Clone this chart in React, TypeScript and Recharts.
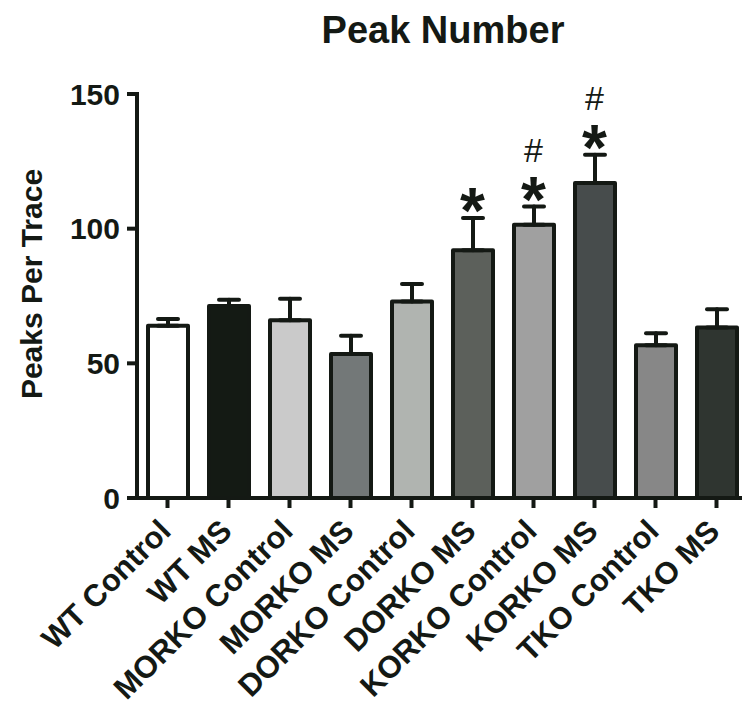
import React from 'react';
import { ComposedChart, Bar, Cell, ErrorBar, Scatter, XAxis, YAxis } from 'recharts';

// values (mean + SEM, peaks per trace)
const categories = [
  'WT Control', 'WT MS', 'MORKO Control', 'MORKO MS', 'DORKO Control',
  'DORKO MS', 'KORKO Control', 'KORKO MS', 'TKO Control', 'TKO MS',
];
const means = [64, 71.3, 66, 53.5, 73, 92, 101.5, 117, 56.7, 63.3];
const sems = [2.5, 2.3, 8, 6.7, 6.5, 12, 6.7, 10.4, 4.5, 6.8];
const marks = ['', '', '', '', '', '*', '*#', '*#', '', ''];
const yTicks = [0, 50, 100, 150];
const fills = [
  '#ffffff', '#141a14', '#cacaca', '#737878', '#b0b4b0',
  '#5c605b', '#a0a0a0', '#474c4c', '#878787', '#2f3530',
];

const INK = '#141914';
const FONT = '"Liberation Sans", Arial, Helvetica, sans-serif';

const data = categories.map((name, i) => ({
  name,
  mean: means[i],
  err: [0, sems[i]],
  capTop: means[i] + sems[i],
  mark: marks[i],
}));

const XTick = (props: any) => {
  const { x, y, payload } = props;
  return (
    <g transform={`translate(${x + 5},${y + 23})`}>
      <text textAnchor="end" transform="rotate(-45)" fontSize={31} fontWeight="bold" fill={INK} fontFamily={FONT}>
        {payload.value}
      </text>
    </g>
  );
};

const YTitle = (props: any) => {
  const vb = props.viewBox || { x: 0, y: 94, width: 137, height: 404 };
  const cx = vb.x + 42;
  const cy = vb.y + vb.height / 2 - 12;
  return (
    <text x={cx} y={cy} transform={`rotate(-90, ${cx}, ${cy})`} textAnchor="middle"
      fontSize={30} fontWeight="bold" fill={INK} fontFamily={FONT}>
      Peaks Per Trace
    </text>
  );
};

// significance marks sit above the error-bar cap (# stacked over *)
const MarkShape = (props: any) => {
  const { cx, cy, payload } = props;
  if (!payload || !payload.mark) return <g />;
  return (
    <text textAnchor="middle" fill={INK} fontFamily={FONT}>
      {payload.mark.includes('#') && (
        <tspan x={cx} y={cy - 45} fontSize={34}>#</tspan>
      )}
      <tspan x={cx} y={cy + 15} fontSize={64} fontWeight="bold">*</tspan>
    </text>
  );
};

export default function App() {
  return (
    <div style={{ position: 'absolute', left: 0, top: 0, width: 742, height: 704, overflow: 'hidden', background: '#fff' }}>
      <div style={{
        position: 'absolute', left: 443, top: 11, transform: 'translateX(-50%)', whiteSpace: 'nowrap',
        fontFamily: FONT, fontWeight: 'bold', fontSize: 38, lineHeight: '38px', color: INK,
      }}>
        Peak Number
      </div>
      <ComposedChart width={760} height={704} data={data} margin={{ top: 94, right: 13, bottom: 0, left: 0 }}>
        <XAxis
          dataKey="name"
          interval={0}
          height={206}
          tick={<XTick />}
          tickSize={10}
          axisLine={{ stroke: INK, strokeWidth: 4, strokeLinecap: 'square' }}
          tickLine={{ stroke: INK, strokeWidth: 4 }}
        />
        <YAxis
          width={137}
          domain={[0, 150]}
          ticks={yTicks}
          tickSize={10}
          tickMargin={7}
          tick={{ fill: INK, fontSize: 30, fontWeight: 'bold', fontFamily: FONT }}
          axisLine={{ stroke: INK, strokeWidth: 4, strokeLinecap: 'square' }}
          tickLine={{ stroke: INK, strokeWidth: 4 }}
          label={<YTitle />}
        />
        <Bar dataKey="mean" barSize={40} stroke={INK} strokeWidth={4} strokeLinejoin="round" isAnimationActive={false}>
          {data.map((d, i) => (
            <Cell key={d.name} fill={fills[i]} />
          ))}
          <ErrorBar dataKey="err" direction="y" width={10} stroke={INK} strokeWidth={4} strokeLinecap="round" />
        </Bar>
        <Scatter dataKey="capTop" shape={MarkShape} isAnimationActive={false} legendType="none" />
      </ComposedChart>
    </div>
  );
}
